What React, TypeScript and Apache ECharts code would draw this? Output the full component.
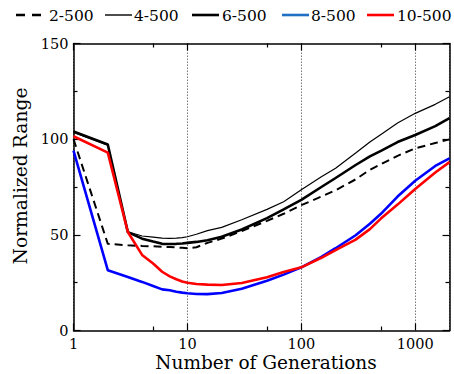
import React, { useEffect, useRef } from "react";
import * as echarts from "echarts";

const generations = [1, 2, 3, 4, 5, 6, 7, 8, 9, 10, 12, 15, 20, 30, 50, 70, 100, 150, 200, 300, 400, 500, 700, 1000, 1500, 2000];

const s2_500 = [100, 45.3, 44.5, 44.2, 44, 43.8, 43.6, 43.4, 43.2, 43, 43.5, 45.8, 48, 52, 57.3, 61, 65.5, 70, 73.3, 79, 84, 86.9, 91.3, 95.2, 98, 99.9];
const s4_500 = [103.5, 96.8, 51.6, 49.4, 48.8, 48.3, 48.2, 48.3, 48.5, 49, 50.3, 52.2, 53.9, 57.9, 63.3, 67.3, 73.5, 80.3, 84.8, 92.8, 98.5, 102.5, 108.5, 113.5, 118.2, 122.2];
const s6_500 = [104, 97.2, 51.4, 48, 46.5, 45.3, 45.2, 45.3, 45.5, 45.8, 46.3, 47.2, 49, 52.8, 58.7, 63.3, 68.3, 75, 79.7, 86.5, 91, 93.9, 98.5, 102.2, 106.8, 111];
const s8_500 = [94, 31.5, 28, 25.4, 23.3, 21.5, 21, 20.3, 19.8, 19.5, 19.1, 19, 19.6, 21.8, 26, 29.2, 33, 38.5, 43, 49.8, 55.8, 61, 70, 78.3, 86, 90];
const s10_500 = [101.5, 93, 51.5, 39.5, 35, 30.7, 28.3, 26.8, 25.6, 25, 24.3, 24, 23.8, 24.8, 27.8, 30.6, 33, 38, 42, 47.5, 53, 58.5, 65.8, 74, 82.6, 88];

const seriesNames = ["2-500", "4-500", "6-500", "8-500", "10-500"];
const seriesValues = [s2_500, s4_500, s6_500, s8_500, s10_500];

const xMajorTicks = [1, 10, 100, 1000];
const xMinorTicks = [5, 50, 500];

const xTitle = "Number of Generations";
const yTitle = "Normalized Range";

const FONT = "DejaVu Serif";

export default function App() {
  const ref = useRef<HTMLDivElement>(null);

  useEffect(() => {
    if (!ref.current) return;
    const chart = echarts.init(ref.current, undefined, { renderer: "svg" });

    const styles: any[] = [
      { color: "#000", width: 2, type: [8, 5] },
      { color: "#000", width: 1.2, type: "solid" },
      { color: "#000", width: 2.6, type: "solid" },
      { color: "#0000ff", width: 2.6, type: "solid" },
      { color: "#ff0000", width: 2.6, type: "solid" },
    ];
    const legendColors = ["#000", "#000", "#000", "#1f6fc4", "#ff0000"];
    const legendLineX = [16, 105, 192, 282, 367];
    const legendTextX = [49, 134, 222, 311, 397];
    const legendY = 15;

    const series = seriesNames.map((name, i) => ({
      name,
      type: "line",
      xAxisIndex: 0,
      yAxisIndex: 0,
      symbol: "none",
      showSymbol: false,
      data: generations.map((g, k) => [g, seriesValues[i][k]]),
      lineStyle: styles[i],
      itemStyle: { color: styles[i].color },
      z: 3 + i,
    }));

    const legendGraphics: any[] = [];
    seriesNames.forEach((n, i) => {
      legendGraphics.push({
        type: "line",
        shape: { x1: legendLineX[i], y1: legendY, x2: legendLineX[i] + 27, y2: legendY },
        style: {
          stroke: legendColors[i],
          lineWidth: i === 1 ? 1.4 : 2.6,
          lineDash: i === 0 ? [9, 7] : null,
        },
      });
      legendGraphics.push({
        type: "text",
        x: legendTextX[i],
        y: legendY + 0.5,
        style: {
          text: n,
          fontFamily: FONT,
          fontSize: 15.5,
          fill: "#000",
          textAlign: "left",
          textVerticalAlign: "middle",
        },
      });
    });

    const axisLineStyle = { color: "#000", width: 1.5 };
    const tickStyle = { color: "#000", width: 1.2 };

    const baseLogAxis = {
      type: "log",
      logBase: 10,
      min: 1,
      max: 2000,
      gridIndex: 0,
    };

    const option: any = {
      animation: false,
      grid: { left: 73.5, right: 4.5, top: 43.5, bottom: 43.5, containLabel: false },
      xAxis: [
        {
          ...baseLogAxis,
          position: "bottom",
          axisLine: { show: true, lineStyle: axisLineStyle },
          axisTick: { show: true, inside: true, length: 7, lineStyle: tickStyle },
          axisLabel: {
            show: true,
            fontFamily: FONT,
            fontSize: 14.5,
            color: "#000",
            margin: 6,
            formatter: (v: number) => String(Math.round(v)),
          },
          splitLine: { show: true, lineStyle: { color: "#777", width: 1, type: [1.5, 1.5] } },
        },
        {
          ...baseLogAxis,
          position: "bottom",
          axisLine: { show: false },
          axisTick: { show: true, inside: true, length: 4, lineStyle: tickStyle, customValues: xMinorTicks },
          axisLabel: { show: false },
          splitLine: { show: false },
        },
        {
          ...baseLogAxis,
          position: "top",
          axisLine: { show: true, lineStyle: axisLineStyle },
          axisTick: { show: true, inside: true, length: 7, lineStyle: tickStyle, customValues: xMajorTicks },
          axisLabel: { show: false },
          splitLine: { show: false },
        },
        {
          ...baseLogAxis,
          position: "top",
          axisLine: { show: false },
          axisTick: { show: true, inside: true, length: 4, lineStyle: tickStyle, customValues: xMinorTicks },
          axisLabel: { show: false },
          splitLine: { show: false },
        },
      ],
      yAxis: [
        {
          type: "value",
          min: 0,
          max: 150,
          interval: 50,
          position: "left",
          axisLine: { show: true, lineStyle: axisLineStyle },
          axisTick: { show: true, inside: true, length: 7, lineStyle: tickStyle },
          minorTick: { show: true, splitNumber: 2, length: 4, lineStyle: tickStyle },
          axisLabel: { show: true, fontFamily: FONT, fontSize: 14.5, color: "#000", margin: 5 },
          splitLine: { show: false },
        },
        {
          type: "value",
          min: 0,
          max: 150,
          interval: 50,
          position: "right",
          axisLine: { show: true, lineStyle: axisLineStyle },
          axisTick: { show: true, inside: true, length: 7, lineStyle: tickStyle },
          minorTick: { show: true, splitNumber: 2, length: 4, lineStyle: tickStyle },
          axisLabel: { show: false },
          splitLine: { show: false },
        },
      ],
      graphic: [
        ...legendGraphics,
        {
          type: "text",
          x: 266,
          y: 362,
          style: {
            text: xTitle,
            fontFamily: FONT,
            fontSize: 18.5,
            fill: "#000",
            textAlign: "center",
            textVerticalAlign: "middle",
          },
        },
        {
          type: "text",
          x: 20,
          y: 176,
          rotation: Math.PI / 2,
          style: {
            text: yTitle,
            fontFamily: FONT,
            fontSize: 18.7,
            fill: "#000",
            textAlign: "center",
            textVerticalAlign: "middle",
          },
        },
      ],
      series,
    };

    chart.setOption(option);
    return () => chart.dispose();
  }, []);

  return <div ref={ref} style={{ width: 454, height: 374, position: "absolute", left: 0, top: 0 }} />;
}
